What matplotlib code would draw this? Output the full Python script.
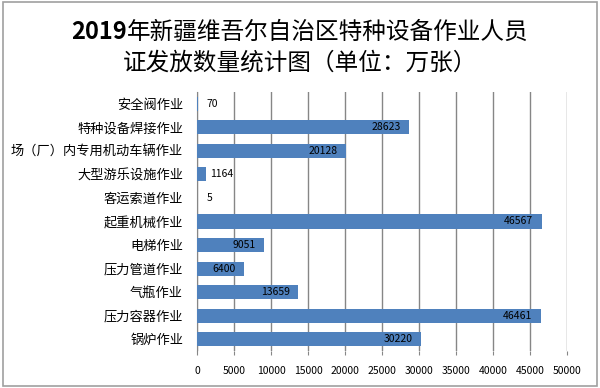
import matplotlib
matplotlib.use('Agg')
import matplotlib.pyplot as plt
from matplotlib.patches import Rectangle

plt.rcParams['font.family'] = ['Noto Sans CJK SC', 'DejaVu Sans']

categories = ['安全阀作业', '特种设备焊接作业', '场（厂）内专用机动车辆作业', '大型游乐设施作业',
              '客运索道作业', '起重机械作业', '电梯作业', '压力管道作业', '气瓶作业',
              '压力容器作业', '锅炉作业']
values = [70, 28623, 20128, 1164, 5, 46567, 9051, 6400, 13659, 46461, 30220]
xticks = [0, 5000, 10000, 15000, 20000, 25000, 30000, 35000, 40000, 45000, 50000]
title_year = '2019'
title_lines = ['年新疆维吾尔自治区特种设备作业人员', '证发放数量统计图（单位：万张）']

fig = plt.figure(figsize=(6, 3.88), dpi=100)
ax = fig.add_axes([197 / 600, 1 - 351 / 388, 370 / 600, 259 / 388])

pos = list(range(len(categories)))
ax.barh(pos, values, height=0.6, color='#4F81BD', zorder=3)
ax.set_ylim(len(categories) - 0.5, -0.5)
ax.set_xlim(0, 50000)
ax.set_yticks(pos)
ax.set_yticklabels(categories, fontsize=9.5)
ax.set_xticks(xticks)
ax.set_xticklabels([str(t) for t in xticks], fontsize=7.5)

ax.grid(axis='x', color='#868686', linewidth=1, zorder=0)
for s in ['top', 'right', 'bottom']:
    ax.spines[s].set_visible(False)
ax.spines['left'].set_color('#868686')
ax.tick_params(axis='y', length=0, pad=10)
ax.tick_params(axis='x', length=3, color='#868686', pad=8)

# data labels: inside end, small bars outside
for p, v in zip(pos, values):
    if v > 3000:
        ax.annotate(str(v), (v, p), xytext=(-6, 0), textcoords='offset points',
                    ha='right', va='center', fontsize=7.5, zorder=4)
    else:
        ax.annotate(str(v), (max(v, 700), p), xytext=(3, 0), textcoords='offset points',
                    ha='left', va='center', fontsize=7.5, zorder=4)

# title: bold year + regular CJK, centred as one line
y1 = 1 - 32 / 388
t_year = fig.text(0, y1, title_year, ha='right', va='center', fontsize=17, fontweight='bold')
t_rest = fig.text(0, y1, title_lines[0], ha='left', va='center', fontsize=17)
fig.canvas.draw()
r = fig.canvas.get_renderer()
w_year = t_year.get_window_extent(r).width / 600
w_rest = t_rest.get_window_extent(r).width / 600
x0 = 0.5 - (w_year + w_rest) / 2 + w_year
t_year.set_x(x0)
t_rest.set_x(x0)
fig.text(0.5, 1 - 63 / 388, title_lines[1], ha='center', va='center', fontsize=17)

fig.patches.append(Rectangle((3 / 600, 2 / 388), 594 / 600, 384 / 388, transform=fig.transFigure,
                             fill=False, edgecolor='#A0A0A0', linewidth=1.2))

fig.savefig('out.png', dpi=100)
